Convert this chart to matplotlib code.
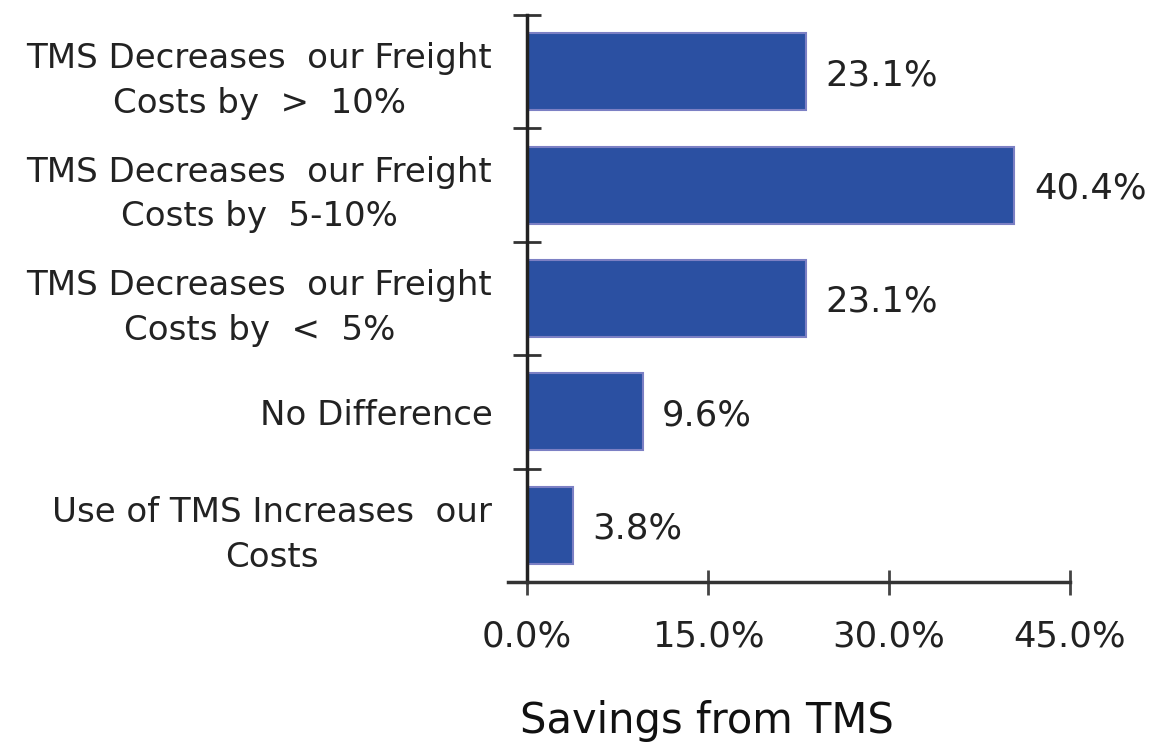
import matplotlib
matplotlib.use("Agg")
import matplotlib.pyplot as plt
from matplotlib.ticker import FuncFormatter

categories = [
    "TMS Decreases  our Freight\nCosts by  >  10%",
    "TMS Decreases  our Freight\nCosts by  5-10%",
    "TMS Decreases  our Freight\nCosts by  <  5%",
    "No Difference",
    "Use of TMS Increases  our\nCosts",
]
values = [23.1, 40.4, 23.1, 9.6, 3.8]
x_ticks = [0, 15, 30, 45]

bar_color = "#2b50a2"
edge_color = "#7c80c4"
text_color = "#222222"

fig = plt.figure(figsize=(11.54, 7.42), dpi=100)
ax = fig.add_axes([0.4567, 0.2156, 0.4705, 0.7642])

y = list(range(len(categories)))
ax.barh(y, values, height=0.68, color=bar_color, edgecolor=edge_color, linewidth=1.5)

for yi, v in zip(y, values):
    ax.text(v + 1.6, yi + 0.03, f"{v:.1f}%", va="center", ha="left",
            fontsize=25.5, color=text_color)

ax.set_ylim(len(categories) - 0.5, -0.5)
ax.set_xlim(0, 45)

ax.set_yticks(y)
ax.set_yticklabels(categories, fontsize=24.5, color=text_color,
                   multialignment="center", linespacing=1.45)
ax.tick_params(axis="y", length=0, pad=25)
# tick marks between categories
ax.set_yticks([i - 0.5 for i in range(len(categories) + 1)], minor=True)
ax.tick_params(axis="y", which="minor", direction="inout", length=20,
               width=2, color="#333333")

ax.set_xticks(x_ticks)
ax.xaxis.set_major_formatter(FuncFormatter(lambda v, p: f"{v:.1f}%"))
ax.tick_params(axis="x", direction="inout", length=18, width=2,
               color="#444444", labelsize=25.5, labelcolor=text_color, pad=18)

for s in ["top", "right"]:
    ax.spines[s].set_visible(False)
ax.spines["left"].set_linewidth(2.5)
ax.spines["left"].set_color("#222222")
ax.spines["bottom"].set_linewidth(2.5)
ax.spines["bottom"].set_color("#333333")
ax.spines["bottom"].set_bounds(-1.6, 45)

fig.text(0.613, 0.028, "Savings from TMS", ha="center", va="center",
         fontsize=30, color="#111111")

fig.savefig("out.png", dpi=100, facecolor="white")
